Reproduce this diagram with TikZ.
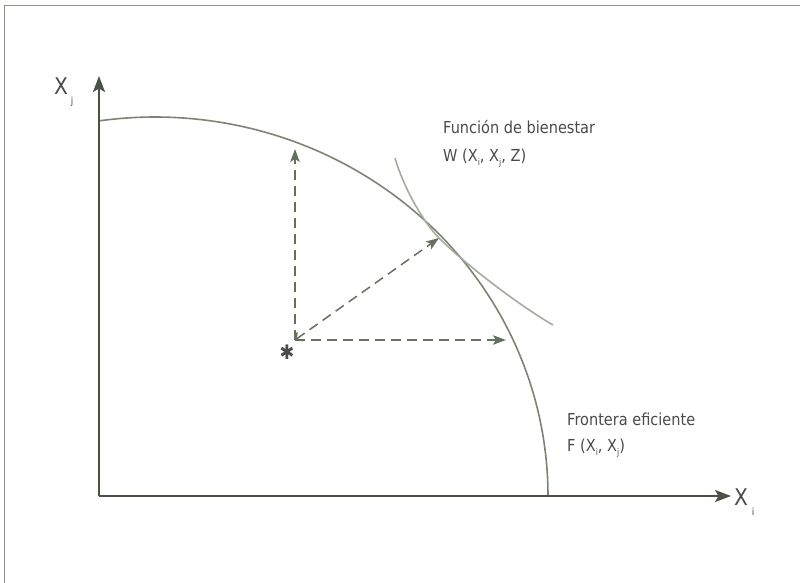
\documentclass[tikz,border=0pt]{standalone}
\usepackage{fontspec}
\setmainfont{DejaVu Sans}[FakeStretch=0.88]
\usetikzlibrary{arrows.meta}
\definecolor{axiscol}{HTML}{4A5343}
\definecolor{dashcol}{HTML}{66705F}
\definecolor{frontcol}{HTML}{7C8476}
\definecolor{welfcol}{HTML}{A5AB9F}
\definecolor{framecol}{HTML}{8A9185}
\definecolor{textcol}{HTML}{4A4A4A}
\newcommand\sbs[1]{\raisebox{-0.3em}{\fontsize{9}{9}\selectfont #1}}
\tikzset{
  axisline/.style={axiscol, line width=2pt, -{Stealth[length=16pt,width=12pt,inset=3.5pt]}},
  dasharrow/.style={dashcol, line width=1.5pt, dash pattern=on 10pt off 6pt, -{Stealth[length=13pt,width=9.5pt,inset=3pt]}},
  lbl/.style={textcol, font=\fontsize{16.5}{18}\selectfont, anchor=base west, inner sep=0pt},
  axlbl/.style={textcol, font=\fontsize{23}{24}\selectfont, anchor=base west, inner sep=0pt},
}
\begin{document}
\begin{tikzpicture}[x=1pt,y=-1pt]
\useasboundingbox (0,0) rectangle (800,583);
\draw[framecol, line width=1.3pt] (4.5,583) -- (4.5,5.5) -- (800,5.5);
% coordinates
\coordinate (O) at (99,496);
\coordinate (Yend) at (99,76);
\coordinate (Xend) at (731,496);
\coordinate (S) at (295,340);
\coordinate (Up) at (295,149);
\coordinate (Right) at (506,340);
\coordinate (T) at (439,238);
% frontier
\draw[frontcol, line width=1.6pt] plot[domain=98.2:0, samples=120, smooth] ({155+393*cos(\x)}, {496-379*sin(\x)});
% welfare
\draw[welfcol, line width=1.6pt] (395,158) .. controls (404,189) and (424,223) .. (T)
  .. controls (466,265) and (520,306) .. (553,325);
% axes
\draw[axisline] (O) -- (Yend);
\draw[axisline] (O) -- (Xend);
% dashed arrows
\draw[dasharrow] (S) -- (Up);
\draw[dasharrow] (S) -- (Right);
\draw[dasharrow, {Straight Barb[length=5pt,width=10pt,line width=1.5pt]}-{Stealth[length=13pt,width=9.5pt,inset=3pt]}] (S) -- (T);
% star
\node[textcol, font=\fontsize{20}{20}\selectfont, inner sep=0pt] (star) at (287,352) {✱};
% labels
\node[axlbl] (xj) at (54,95) {X};
\node[textcol, font=\fontsize{10}{10}\selectfont, inner sep=0pt] (xjs) at (72,102) {j};
\node[axlbl] (xi) at (734,505) {X};
\node[textcol, font=\fontsize{10}{10}\selectfont, inner sep=0pt] (xis) at (753,512) {i};
\node[lbl] (w1) at (443,133) {Función de bienestar};
\node[lbl] (w2) at (443,161) {W (X\sbs{i}, X\sbs{j}, Z)};
\node[lbl] (f1) at (567,425) {Frontera eficiente};
\node[lbl] (f2) at (567,451) {F (X\sbs{i}, X\sbs{j})};
\end{tikzpicture}
\end{document}
